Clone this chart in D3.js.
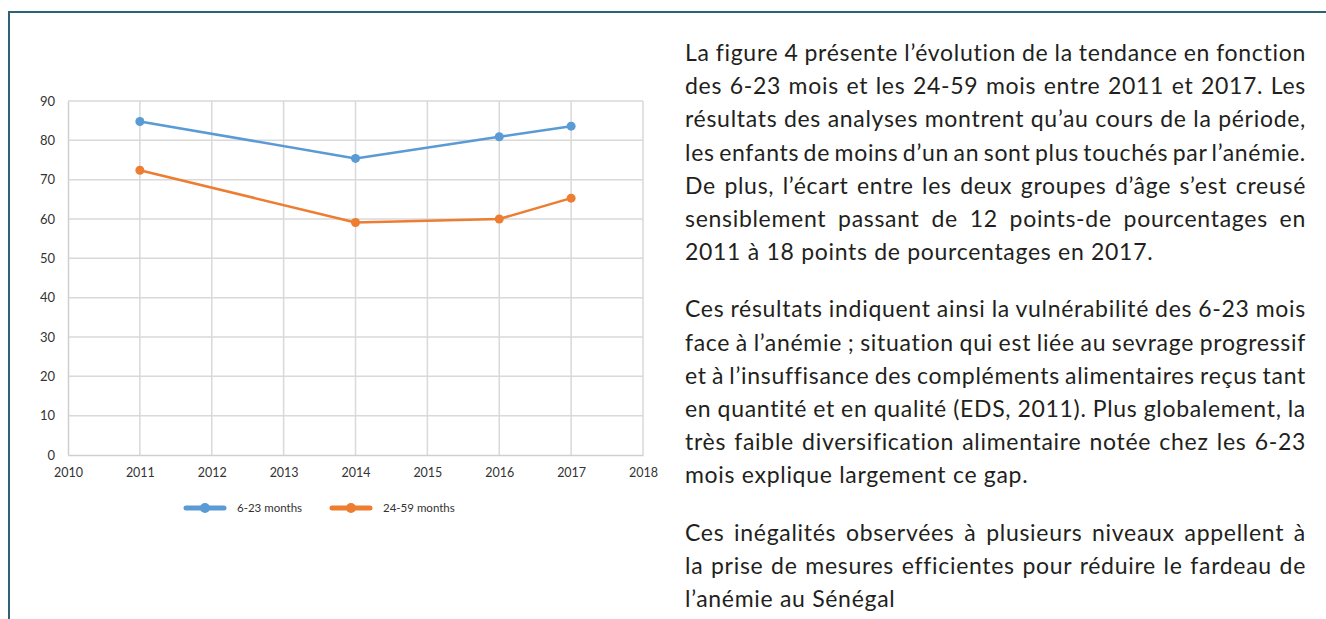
<!DOCTYPE html>
<html>
<head>
<meta charset="utf-8">
<script src="https://cdn.jsdelivr.net/npm/d3@7"></script>
<style>
  html, body { margin: 0; padding: 0; background: #fff; }
  body { width: 1326px; height: 619px; overflow: hidden; position: relative; }
  #frame { position: absolute; left: 8px; top: 11px; width: 1330px; height: 620px;
           border-top: 2px solid #2d6374; border-left: 2px solid #2d6374; }
  #chart { position: absolute; left: 0; top: 0; }
  #texte { position: absolute; left: 0; top: 0; font-family: Lato, sans-serif; color: #231f20; }
  .ligne { position: absolute; white-space: nowrap; font-size: 23px; letter-spacing: 0.7px; line-height: 26px; }
</style>
</head>
<body>
<div id="frame"></div>
<div id="chart"></div>
<div id="texte"></div>
<script>
// données du graphique
var annees = [2011, 2014, 2016, 2017];
var mois6_23 = [84.8, 75.4, 80.9, 83.6];
var mois24_59 = [72.4, 59.1, 60.0, 65.3];
var series = [
    {nom: "6-23 months", valeurs: mois6_23, couleur: "#5b9bd5"},
    {nom: "24-59 months", valeurs: mois24_59, couleur: "#ed7d31"}
];
var ticksX = [2010, 2011, 2012, 2013, 2014, 2015, 2016, 2017, 2018];
var ticksY = [0, 10, 20, 30, 40, 50, 60, 70, 80, 90];

// texte à droite, ligne par ligne (comme dans le document)
var paragraphes = [
    ["La figure 4 présente l’évolution de la tendance en fonction",
     "des 6-23 mois et les 24-59 mois entre 2011 et 2017. Les",
     "résultats des analyses montrent qu’au cours de la période,",
     "les enfants de moins d’un an sont plus touchés par l’anémie.",
     "De plus, l’écart entre les deux groupes d’âge s’est creusé",
     "sensiblement passant de 12 points-de pourcentages en",
     "2011 à 18 points de pourcentages en 2017."],
    ["Ces résultats indiquent ainsi la vulnérabilité des 6-23 mois",
     "face à l’anémie ; situation qui est liée au sevrage progressif",
     "et à l’insuffisance des compléments alimentaires reçus tant",
     "en quantité et en qualité (EDS, 2011). Plus globalement, la",
     "très faible diversification alimentaire notée chez les 6-23",
     "mois explique largement ce gap."],
    ["Ces inégalités observées à plusieurs niveaux appellent à",
     "la prise de mesures efficientes pour réduire le fardeau de",
     "l’anémie au Sénégal"]
];

var width = 1326, height = 619;
var margin = {left: 68, right: 683, top: 101, bottom: 164};

var svg = d3.select("#chart").append("svg")
    .attr("width", width)
    .attr("height", height);

var x = d3.scaleLinear().domain([2010, 2018]).range([margin.left, width - margin.right]);
var y = d3.scaleLinear().domain([0, 90]).range([height - margin.bottom, margin.top]);

var grille = svg.append("g").attr("class", "grille");
grille.selectAll(".gy").data(ticksY.slice(1)).enter().append("line")
    .attr("x1", x(2010)).attr("x2", x(2018))
    .attr("y1", function(d) { return y(d); }).attr("y2", function(d) { return y(d); })
    .attr("stroke", "#d9d9d9").attr("stroke-width", 1.5);
grille.selectAll(".gx").data(ticksX.slice(1)).enter().append("line")
    .attr("x1", function(d) { return x(d); }).attr("x2", function(d) { return x(d); })
    .attr("y1", y(0)).attr("y2", y(90))
    .attr("stroke", "#d9d9d9").attr("stroke-width", 1.5);

// axes
var axeY = svg.append("g")
    .attr("transform", "translate(" + x(2010) + ",0)")
    .call(d3.axisLeft(y).tickValues(ticksY).tickSize(0).tickPadding(13));
var axeX = svg.append("g")
    .attr("transform", "translate(0," + y(0) + ")")
    .call(d3.axisBottom(x).tickValues(ticksX).tickSize(0).tickPadding(13).tickFormat(d3.format("d")));
[axeY, axeX].forEach(function(a) {
    a.select(".domain").attr("stroke", "#cfcfcf").attr("stroke-width", 1.5);
    a.selectAll("text").attr("fill", "#333").style("font-family", "Lato, sans-serif").style("font-size", "13px");
});
axeX.selectAll("text").style("font-size", "12.5px");

// courbes
var ligne = d3.line()
    .x(function(d) { return x(d.annee); })
    .y(function(d) { return y(d.v); });

series.forEach(function(s) {
    var pts = annees.map(function(a, i) { return {annee: a, v: s.valeurs[i]}; });
    svg.append("path")
        .datum(pts)
        .attr("fill", "none")
        .attr("stroke", s.couleur)
        .attr("stroke-width", 2.5)
        .attr("stroke-linejoin", "round")
        .attr("d", ligne);
    svg.selectAll(null).data(pts).enter().append("circle")
        .attr("cx", function(d) { return x(d.annee); })
        .attr("cy", function(d) { return y(d.v); })
        .attr("r", 4.5)
        .attr("fill", s.couleur);
});

// légende
var legende = svg.append("g").attr("transform", "translate(186,508)");
var posLeg = [0, 146];
series.forEach(function(s, i) {
    var g = legende.append("g").attr("transform", "translate(" + posLeg[i] + ",0)");
    g.append("line").attr("x1", 0).attr("x2", 38).attr("y1", 0).attr("y2", 0)
        .attr("stroke", s.couleur).attr("stroke-width", 5).attr("stroke-linecap", "round");
    g.append("circle").attr("cx", 19).attr("cy", 0).attr("r", 5).attr("fill", s.couleur);
    g.append("text").attr("x", 51).attr("y", 4)
        .attr("fill", "#333").style("font-family", "Lato, sans-serif").style("font-size", "11.5px")
        .text(s.nom);
});

// texte justifié
var texteX = 685, texteW = 621, y0 = 52, pas = 33.2, ecartPar = 24;
var zone = d3.select("#texte");
var yc = y0;
paragraphes.forEach(function(lignes, p) {
    lignes.forEach(function(t, i) {
        var div = zone.append("div").attr("class", "ligne")
            .style("left", texteX + "px")
            .style("top", (yc - 13) + "px")
            .text(t);
        if (i < lignes.length - 1) {
            var nat = div.node().getBoundingClientRect().width;
            var nbEsp = t.split(" ").length - 1;
            div.style("word-spacing", ((texteW - nat) / nbEsp) + "px");
        }
        yc += pas;
    });
    yc += ecartPar;
});
</script>
</body>
</html>
